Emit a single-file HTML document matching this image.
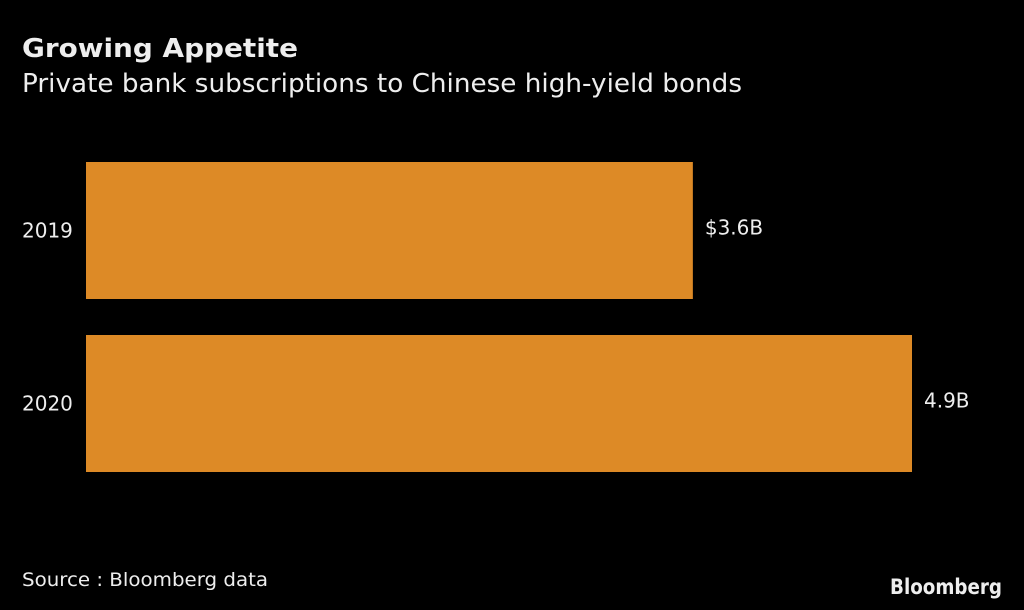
<!DOCTYPE html>
<html><head><meta charset="utf-8"><style>
body{margin:0;background:#000;}
svg{display:block;}
text{font-family:"DejaVu Sans","Liberation Sans",sans-serif;fill:#eee;}
</style></head><body>
<svg id="chart" width="1024" height="610" viewBox="0 0 1024 610">
<rect width="1024" height="610" fill="#000"/>
<text x="22" y="57" font-size="26" font-weight="bold" textLength="276" lengthAdjust="spacingAndGlyphs" fill="#fff">Growing Appetite</text>
<text x="22" y="92" font-size="26" textLength="720" lengthAdjust="spacingAndGlyphs">Private bank subscriptions to Chinese high-yield bonds</text>
<g id="bars"></g>
<text x="22" y="586" font-size="19" textLength="246" lengthAdjust="spacingAndGlyphs" fill="#ccc">Source :  Bloomberg data</text>
<text x="1002" y="594" font-size="21" font-weight="bold" text-anchor="end" textLength="112" lengthAdjust="spacingAndGlyphs" font-family="Liberation Sans" fill="#ddd">Bloomberg</text>
</svg>
<script>
const categories=["2019","2020"];
const values=[3.6,4.9];
const valueLabels=["$3.6B","4.9B"];
const x0=86,x1=912,xmax=4.9;
function xs(v){return x0+(x1-x0)*v/xmax;}
const bandTop=162,bandStep=173,barH=137;
function ys(i){return bandTop+i*bandStep;}
const g=document.getElementById('bars');
const ns='http://www.w3.org/2000/svg';
categories.forEach((c,i)=>{
  const r=document.createElementNS(ns,'rect');
  
  
  r.setAttribute('x',x0);r.setAttribute('y',ys(i));
  r.setAttribute('width',xs(values[i])-x0);r.setAttribute('height',barH);
  r.setAttribute('fill','#DD8A26');
  g.appendChild(r);
  const t=document.createElementNS(ns,'text');
  
  
  t.setAttribute('x',22);t.setAttribute('y',ys(i)+barH/2+7);
  t.setAttribute('font-size','20');
  t.textContent=c;
  g.appendChild(t);
  const v=document.createElementNS(ns,'text');
  
  
  v.setAttribute('x',xs(values[i])+12);v.setAttribute('y',ys(i)+barH/2+4);
  v.setAttribute('font-size','20');
  v.textContent=valueLabels[i];
  g.appendChild(v);
});
</script>
</body></html>
